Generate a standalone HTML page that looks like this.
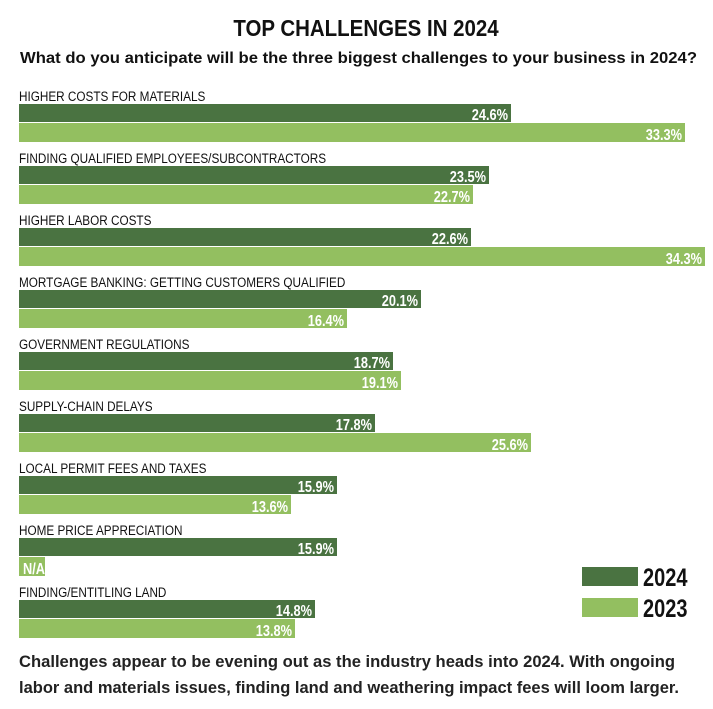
<!DOCTYPE html>
<html><head><meta charset="utf-8"><style>
body{margin:0;background:#fff;}
svg text{font-family:"Liberation Sans",sans-serif;}
</style></head><body>
<svg id="chart" width="713" height="704" xmlns="http://www.w3.org/2000/svg">
<g transform="translate(366,0) scale(0.89,1)"><text x="0" y="36" text-anchor="middle" font-size="23" font-weight="bold" fill="#111">TOP CHALLENGES IN 2024</text></g>
<text x="20" y="63" textLength="677" lengthAdjust="spacingAndGlyphs" font-size="16" font-weight="bold" fill="#111">What do you anticipate will be the three biggest challenges to your business in 2024?</text>
<g id="bars"></g>
<rect x="582" y="567" width="56" height="19" fill="#4a7341"/>
<rect x="582" y="598" width="56" height="19" fill="#93bf60"/>
<g transform="translate(643,586) scale(0.8,1)"><text font-size="25" font-weight="bold" fill="#111">2024</text></g>
<g transform="translate(643,617) scale(0.8,1)"><text font-size="25" font-weight="bold" fill="#111">2023</text></g>
<text x="19" y="667" textLength="656" lengthAdjust="spacingAndGlyphs" font-size="16.5" font-weight="bold" fill="#222">Challenges appear to be evening out as the industry heads into 2024. With ongoing</text>
<text x="19" y="693" textLength="660" lengthAdjust="spacingAndGlyphs" font-size="16.5" font-weight="bold" fill="#222">labor and materials issues, finding land and weathering impact fees will loom larger.</text>
</svg>
<script>
const categories=["HIGHER COSTS FOR MATERIALS","FINDING QUALIFIED EMPLOYEES/SUBCONTRACTORS","HIGHER LABOR COSTS","MORTGAGE BANKING: GETTING CUSTOMERS QUALIFIED","GOVERNMENT REGULATIONS","SUPPLY-CHAIN DELAYS","LOCAL PERMIT FEES AND TAXES","HOME PRICE APPRECIATION","FINDING/ENTITLING LAND"];
const values2024=[24.6,23.5,22.6,20.1,18.7,17.8,15.9,15.9,14.8];
const values2023=[33.3,22.7,34.3,16.4,19.1,25.6,13.6,null,13.8];
const NS="http://www.w3.org/2000/svg";
const g=document.getElementById('bars');
const x0=19, pxPer=20;
const xLen=v=>v*pxPer;
const yGroup=i=>84+i*62;
function el(t,a){const e=document.createElementNS(NS,t);for(const k in a)e.setAttribute(k,a[k]);return e;}
function label(x,y,txt,size,color,anchor,name,sx){
  const w=el('g',{transform:`translate(${x},${y}) scale(${sx||0.8},1)`});
  const t=el('text',{'font-size':size,fill:color,'text-anchor':anchor==='start-b'?'start':anchor,'font-weight':anchor==='end'||anchor==='start-b'?'bold':'normal'});
  t.textContent=txt;
  
  
  w.appendChild(t);g.appendChild(w);
}
categories.forEach((c,i)=>{
  const y=yGroup(i);
  label(x0,y+17,c,14,'#111','start','category-label',0.84);
  const r1=el('rect',{x:x0,y:y+20,width:xLen(values2024[i]),height:18,fill:'#4a7341'});
  
  
  g.appendChild(r1);
  label(x0+xLen(values2024[i])-3,y+36,values2024[i].toFixed(1)+'%',16,'#fff','end','value-2024');
  const v=values2023[i];
  const w=v==null?26:xLen(v);
  const r2=el('rect',{x:x0,y:y+39,width:w,height:19,fill:'#93bf60'});
  
  
  g.appendChild(r2);
  if(v==null) label(x0+4,y+56,'N/A',16,'#fff','start-b','value-2023');
  else label(x0+w-3,y+56,v.toFixed(1)+'%',16,'#fff','end','value-2023');
});
</script>
</body></html>
